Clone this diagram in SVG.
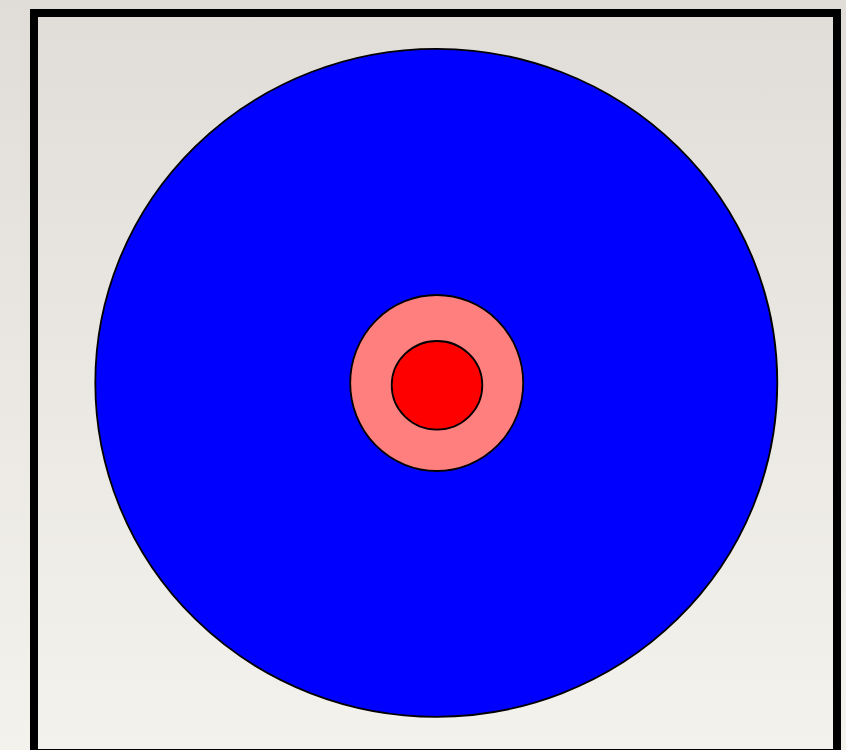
<svg xmlns="http://www.w3.org/2000/svg" width="846" height="750" viewBox="0 0 846 750">
<defs>
<linearGradient id="bg" x1="0" y1="0" x2="0" y2="1">
<stop offset="0" stop-color="#e0ddd8"/>
<stop offset="1" stop-color="#f4f2ed"/>
</linearGradient>
<style>
.ring{stroke:#000;stroke-width:1.8}
</style>
</defs>
<rect x="0" y="0" width="846" height="750" fill="url(#bg)"/>
<rect x="34" y="13" width="803" height="740" fill="none" stroke="#000" stroke-width="8"/>
<g id="outer"><ellipse class="ring" cx="436.3" cy="382.8" rx="341" ry="334" fill="#0000ff"/></g>
<g id="middle"><ellipse class="ring" cx="436.7" cy="383" rx="86.5" ry="88" fill="#ff7f7f"/></g>
<g id="inner"><ellipse class="ring" cx="437" cy="385.3" rx="45.3" ry="44.3" fill="#ff0000"/></g>
<g id="connectors"/>
</svg>
